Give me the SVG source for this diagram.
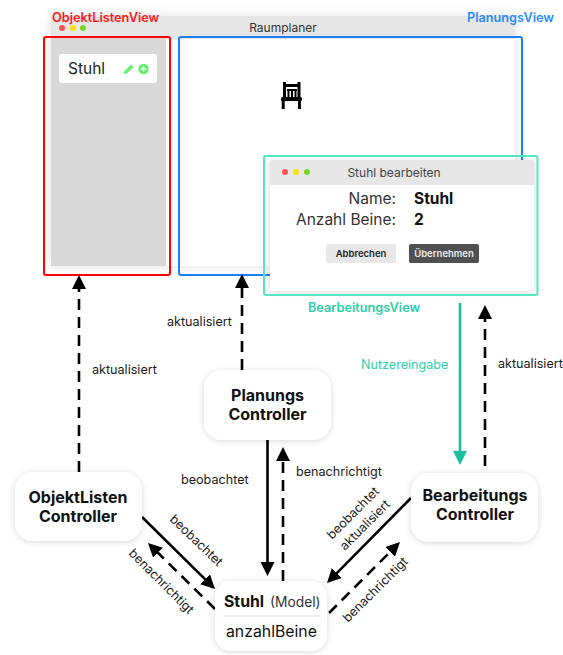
<svg xmlns="http://www.w3.org/2000/svg" width="563" height="655" viewBox="0 0 563 655">
<style>
text{font-family:Inter,"Noto Sans","Liberation Sans",sans-serif;fill:#1a1a1a}
.lab{font-size:12.600px}
.ctl{font-size:16px;font-weight:700;text-anchor:middle;fill:#111}
.node{fill:#fff;filter:url(#soft)}
.c{fill:none;stroke:#000;stroke-width:2.600}
.d{stroke-dasharray:11 7}
.view{font-size:12.700px;font-weight:600}
</style>
<defs>
<filter id="soft" x="-20%" y="-20%" width="140%" height="140%"><feDropShadow dx="0" dy="1" stdDeviation="3" flood-color="#000" flood-opacity=".16"/></filter>
<filter id="win" x="-10%" y="-10%" width="120%" height="120%"><feDropShadow dx="0" dy="0" stdDeviation="6" flood-color="#000" flood-opacity=".12"/></filter>
<marker id="a" markerUnits="userSpaceOnUse" markerWidth="14" markerHeight="14" refX="6" refY="7" orient="auto" viewBox="0 0 14 14"><path d="M0 0L14 7L0 14z" fill="#000"/></marker>
<marker id="t" markerUnits="userSpaceOnUse" markerWidth="14" markerHeight="14" refX="6" refY="7" orient="auto" viewBox="0 0 14 14"><path d="M0 0L14 7L0 14z" fill="#1abf9c"/></marker>
</defs>

<g id="raumplaner-window">
<rect x="51" y="16" width="464" height="250" fill="#fff" filter="url(#win)"/>
<rect x="51" y="16" width="464" height="23" fill="#e6e6e6"/>
<rect x="51" y="38" width="115" height="228" fill="#d8d8d8"/>
<circle cx="62" cy="28" r="3" fill="#ff5252"/><circle cx="73" cy="28" r="3" fill="#f5e000"/><circle cx="83" cy="28" r="3" fill="#7ed321"/>
<text x="283" y="32" text-anchor="middle" font-size="12" style="fill:#333">Raumplaner</text>
<rect x="59" y="54" width="98" height="29" rx="3" fill="#fff"/>
<text x="68" y="74" font-size="15.500" style="fill:#222">Stuhl</text>
<path d="M123.500 74L124.500 71L131 64.500L133.500 67L127 73.500Z" fill="#66f070"/>
<circle cx="143.500" cy="69" r="5.200" fill="#62f06a"/>
<path d="M143.500 66v6M140.500 69h6" stroke="#fff" stroke-width="1.300"/>
<g id="chair" fill="#000">
<rect x="283" y="82" width="3" height="16"/><rect x="297.500" y="82" width="3" height="16"/>
<rect x="283" y="84" width="17" height="3"/>
<rect x="287" y="89" width="10" height="2"/><rect x="287.500" y="89" width="2" height="8"/><rect x="291" y="89" width="2" height="8"/><rect x="294.500" y="89" width="2" height="8"/>
<rect x="281" y="97" width="21" height="4" rx="1.500"/>
<rect x="281.700" y="100" width="3" height="9"/><rect x="298" y="100" width="3" height="9"/>
</g>
</g>

<g id="objektlisten-view">
<rect x="44" y="37" width="126" height="238" rx="2" fill="none" stroke="#ff0000" stroke-width="2"/>
<text class="view" x="52" y="22" style="fill:#ff1a1a">ObjektListenView</text>
</g>
<g id="planungs-view">
<rect x="179" y="37" width="343" height="238" rx="2" fill="none" stroke="#1a82ff" stroke-width="2"/>
<text class="view" x="467" y="22" style="fill:#2b8cff">PlanungsView</text>
</g>

<g id="bearbeitungs-view">
<rect x="270" y="160" width="264" height="131" rx="2" fill="#fff" filter="url(#soft)"/>
<path d="M270 185V162a2 2 0 0 1 2-2H532a2 2 0 0 1 2 2V185Z" fill="#e6e6e6"/>
<rect x="264" y="156" width="273.500" height="139" rx="2" fill="none" stroke="#55e6c1" stroke-width="2"/>
<circle cx="285" cy="172" r="3" fill="#ff5252"/><circle cx="296" cy="172" r="3" fill="#f5e000"/><circle cx="307" cy="172" r="3" fill="#7ed321"/>
<text x="394" y="177" text-anchor="middle" font-size="12" style="fill:#444">Stuhl bearbeiten</text>
<text x="396" y="204" text-anchor="end" font-size="15.500" style="fill:#333">Name:</text>
<text x="396" y="225" text-anchor="end" font-size="15.500" style="fill:#333">Anzahl Beine:</text>
<text x="414" y="204" font-size="15.500" font-weight="700" style="fill:#111">Stuhl</text>
<text x="414" y="225" font-size="15.500" font-weight="700" style="fill:#111">2</text>
<rect x="326" y="244" width="70" height="19" rx="2" fill="#e8e8e8"/>
<text x="361" y="257" text-anchor="middle" font-size="9.500" font-weight="600" style="fill:#222">Abbrechen</text>
<rect x="409" y="244" width="70" height="19" rx="2" fill="#505050"/>
<text x="444" y="257" text-anchor="middle" font-size="9.500" font-weight="600" style="fill:#eee">Übernehmen</text>
<text class="view" x="308" y="312" style="fill:#2ecfa8">BearbeitungsView</text>
</g>

<g id="connectors">
<path class="c d" d="M79 472V283" marker-end="url(#a)"/>
<path class="c d" d="M242 370V282" marker-end="url(#a)"/>
<path class="c" d="M267.500 440V568" marker-end="url(#a)"/>
<path class="c d" d="M283 581V455" marker-end="url(#a)"/>
<path class="c" d="M460 303V457" style="stroke:#1abf9c" marker-end="url(#t)"/>
<path class="c d" d="M485 466V313" marker-end="url(#a)"/>
<path class="c" d="M142 517L209.300 583.400" marker-end="url(#a)"/>
<path class="c d" d="M215 609L153.700 548.600" marker-end="url(#a)"/>
<path class="c" d="M411 498L332.600 577.300" marker-end="url(#a)"/>
<path class="c d" d="M329 613L394.300 547.700" marker-end="url(#a)"/>
</g>

<g id="edge-labels">
<text class="lab" x="92" y="374">aktualisiert</text>
<text class="lab" x="167" y="326">aktualisiert</text>
<text class="lab" x="181" y="484">beobachtet</text>
<text class="lab" x="296" y="476">benachrichtigt</text>
<text class="lab" x="361" y="369" style="fill:#2ecfa8">Nutzereingabe</text>
<text class="lab" x="498" y="368">aktualisiert</text>
<text class="lab" transform="translate(169 520) rotate(44)">beobachtet</text>
<text class="lab" transform="translate(128 554) rotate(45)">benachrichtigt</text>
<text class="lab" transform="translate(332 540) rotate(-45)">beobachtet</text>
<text class="lab" transform="translate(345 551) rotate(-45)">aktualisiert</text>
<text class="lab" transform="translate(348 623) rotate(-45)">benachrichtigt</text>
</g>

<g id="planungs-controller">
<rect class="node" x="204" y="370" width="127" height="70" rx="18"/>
<text class="ctl" x="267.500" y="401">Planungs</text><text class="ctl" x="267.500" y="420">Controller</text>
</g>
<g id="objektlisten-controller">
<rect class="node" x="15" y="472" width="127" height="69" rx="18"/>
<text class="ctl" x="78" y="503">ObjektListen</text><text class="ctl" x="78" y="522">Controller</text>
</g>
<g id="bearbeitungs-controller">
<rect class="node" x="411" y="473" width="127" height="69" rx="18"/>
<text class="ctl" x="475" y="501">Bearbeitungs</text><text class="ctl" x="475" y="520">Controller</text>
</g>
<g id="stuhl-model">
<rect class="node" x="215" y="581" width="112" height="70" rx="16"/>
<text x="224" y="607" font-size="15.800" font-weight="700" style="fill:#111">Stuhl</text>
<text x="270" y="607" font-size="13.800" style="fill:#333">(Model)</text>
<line x1="223" y1="616" x2="321" y2="616" stroke="#ddd"/>
<text x="226" y="637" font-size="15.800" style="fill:#111">anzahlBeine</text>
</g>
</svg>
